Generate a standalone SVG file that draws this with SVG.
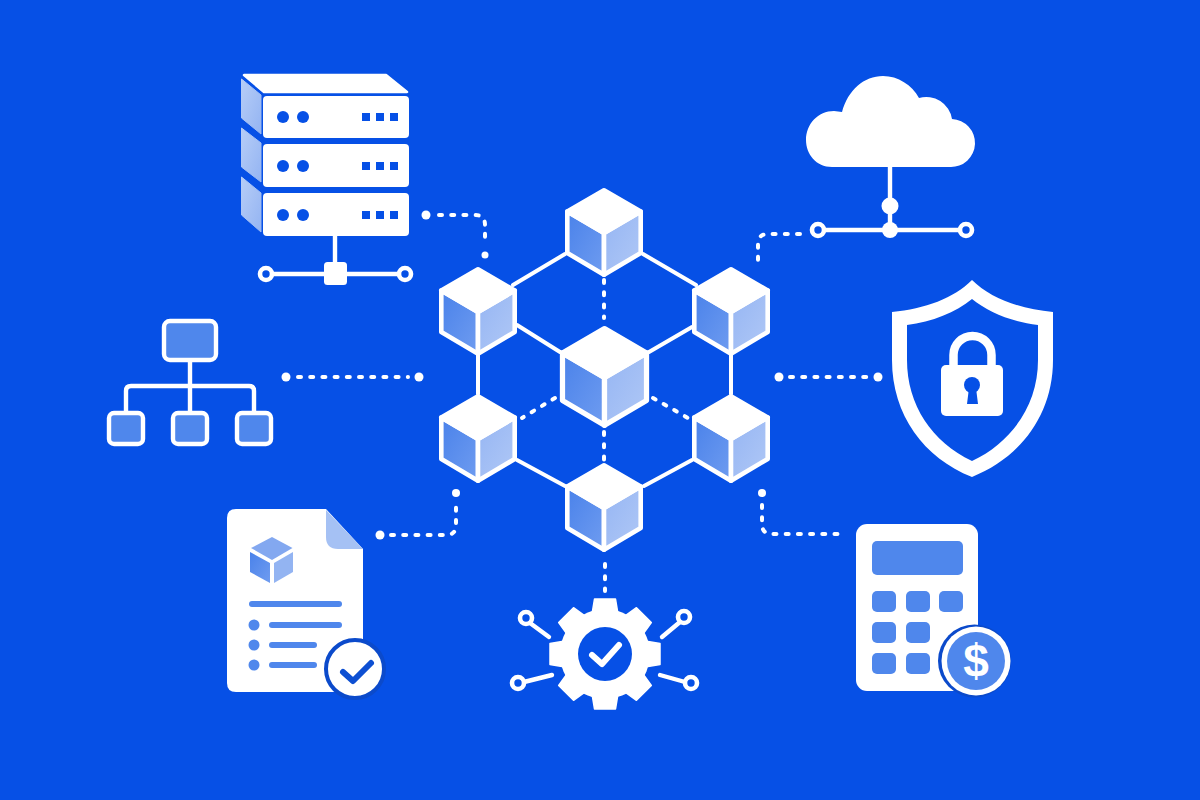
<svg xmlns="http://www.w3.org/2000/svg" width="1200" height="800" viewBox="0 0 1200 800">
  <defs>
    <linearGradient id="faceLeft" x1="0" y1="0" x2="1" y2="1">
      <stop offset="0" stop-color="#4a82ea"/>
      <stop offset="1" stop-color="#6f9cf0"/>
    </linearGradient>
    <linearGradient id="faceRight" x1="0" y1="0" x2="1" y2="1">
      <stop offset="0" stop-color="#95b5f3"/>
      <stop offset="1" stop-color="#b0c8f6"/>
    </linearGradient>
    <linearGradient id="serverSide" x1="0" y1="0" x2="1" y2="1">
      <stop offset="0" stop-color="#b6cdf7"/>
      <stop offset="1" stop-color="#94b4f2"/>
    </linearGradient>
    <g id="cube" stroke="#fff" stroke-width="4.6" stroke-linejoin="round">
      <path d="M-36.7,23.5 L0,45 V86.7 L-36.7,65 Z" fill="url(#faceLeft)"/>
      <path d="M36.7,23.5 L0,45 V86.7 L36.7,65 Z" fill="url(#faceRight)"/>
      <path d="M0,2.3 L36.7,23.5 L0,45 L-36.7,23.5 Z" fill="#fff"/>
    </g>
    <g id="tooth"><path d="M-13,-40 L-10.5,-55 H10.5 L13,-40 Z" fill="#fff" stroke="#fff" stroke-width="1.5" stroke-linejoin="round"/></g>
  </defs>
  <style>
    .link { fill: none; stroke: #fff; stroke-width: 4; stroke-linecap: round; }
    .dash { fill: none; stroke: #fff; stroke-width: 4; stroke-dasharray: 3 9.2; stroke-linecap: round; }
    .dot { fill: #fff; }
    .wire { fill: none; stroke: #fff; stroke-width: 4.4; stroke-linecap: round; stroke-linejoin: round; }
    .ring { fill: #0650e6; stroke: #fff; stroke-width: 4.6; }
    .hole { fill: #0650e6; }
    .tint { fill: #4f87ec; }
    .box { fill: #4f87ec; stroke: #fff; stroke-width: 4.4; }
  </style>

  <rect width="1200" height="800" fill="#0650e6"/>

  <g id="connectors">
    <!-- solid links of the cube cluster -->
    <path class="link" d="M565,254 L513,285 M643,254 L696,285 M517,325 L560,352 M692,327 L649,352 M478,355 V394 M731,355 V394 M517,460 L565,486 M692,460 L644,486"/>
    <!-- dashed links of the cube cluster -->
    <path class="dash" d="M604,280 V318 M604,432 V460 M555,398 L522,418 M653,398 L688,418"/>
    <!-- dotted leaders to the outer icons -->
    <path class="dash" d="M439,215 H475 Q485,215 485,225 V246"/>
    <circle class="dot" cx="426" cy="215" r="4.5"/>
    <circle class="dot" cx="485" cy="255" r="3.5"/>
    <path class="dash" d="M800,234 H768 Q758,234 758,244 V265"/>
    <path class="dash" d="M298,377 H408"/>
    <circle class="dot" cx="286" cy="377" r="4.5"/>
    <circle class="dot" cx="419" cy="377" r="4.5"/>
    <path class="dash" d="M790,377 H868"/>
    <circle class="dot" cx="779" cy="377" r="4.5"/>
    <circle class="dot" cx="878" cy="377" r="4.5"/>
    <path class="dash" d="M391,535 H446 Q456,535 456,525 V504"/>
    <circle class="dot" cx="380" cy="535" r="4.5"/>
    <circle class="dot" cx="456" cy="493" r="4"/>
    <path class="dash" d="M762,505 V524 Q762,534 772,534 H838"/>
    <circle class="dot" cx="762" cy="493" r="4"/>
    <path class="dash" d="M605,564 V591"/>
  </g>

  <g id="cube-top"><use href="#cube" x="604" y="188"/></g>
  <g id="cube-upper-left"><use href="#cube" x="478" y="267"/></g>
  <g id="cube-upper-right"><use href="#cube" x="731" y="267"/></g>
  <g id="cube-lower-left"><use href="#cube" x="478" y="394"/></g>
  <g id="cube-lower-right"><use href="#cube" x="731" y="394"/></g>
  <g id="cube-bottom"><use href="#cube" x="604" y="463"/></g>
  <g id="cube-center"><use href="#cube" transform="translate(604.5 326) scale(1.145)"/></g>

  <g id="server">
    <path d="M244,75 H386 L407,92 H264 Z" fill="#fff" stroke="#fff" stroke-width="2.5" stroke-linejoin="round"/>
    <g fill="url(#serverSide)" stroke="url(#serverSide)" stroke-width="1" stroke-linejoin="round">
      <path d="M241.5,79 L261,95 V134 L241.5,118 Z"/>
      <path d="M241.5,128 L261,143 V182 L241.5,167 Z"/>
      <path d="M241.5,177 L261,193 V232 L241.5,215 Z"/>
    </g>
    <g fill="#fff">
      <rect x="263" y="96" width="146" height="42" rx="4"/>
      <rect x="263" y="144" width="146" height="43" rx="4"/>
      <rect x="263" y="193" width="146" height="43" rx="4"/>
    </g>
    <g class="hole">
      <circle cx="283" cy="117" r="6"/><circle cx="303" cy="117" r="6"/>
      <rect x="362" y="113" width="8" height="8"/><rect x="376" y="113" width="8" height="8"/><rect x="390" y="113" width="8" height="8"/>
      <circle cx="283" cy="166" r="6"/><circle cx="303" cy="166" r="6"/>
      <rect x="362" y="162" width="8" height="8"/><rect x="376" y="162" width="8" height="8"/><rect x="390" y="162" width="8" height="8"/>
      <circle cx="283" cy="215" r="6"/><circle cx="303" cy="215" r="6"/>
      <rect x="362" y="211" width="8" height="8"/><rect x="376" y="211" width="8" height="8"/><rect x="390" y="211" width="8" height="8"/>
    </g>
    <path class="wire" d="M335,236 V264 M272,274 H399"/>
    <rect x="324" y="262" width="23" height="23" rx="3.5" fill="#fff"/>
    <circle class="ring" cx="266" cy="274" r="6"/>
    <circle class="ring" cx="405" cy="274" r="6"/>
  </g>

  <g id="cloud">
    <path d="M832,167 C816,167 806,154 806,140 C806,124 818,111 834,111 L842,112 C848,90 864,76 883,76 C898,76 912,85 919,98 A26,26 0 0 1 952,119 A24,24 0 0 1 950,167 Z" fill="#fff"/>
    <path class="wire" d="M890,167 V230 M824,230 H960"/>
    <circle class="dot" cx="890" cy="206" r="8.5"/>
    <circle class="dot" cx="890" cy="230" r="8"/>
    <circle class="ring" cx="818" cy="230" r="6"/>
    <circle class="ring" cx="966" cy="230" r="6"/>
  </g>

  <g id="hierarchy">
    <path class="wire" d="M190,362 V411 M126,411 V391 Q126,386 131,386 H249 Q254,386 254,391 V411"/>
    <rect class="box" x="164" y="321" width="52" height="39" rx="6"/>
    <rect class="box" x="109" y="413" width="34" height="31" rx="5"/>
    <rect class="box" x="173" y="413" width="34" height="31" rx="5"/>
    <rect class="box" x="237" y="413" width="34" height="31" rx="5"/>
  </g>

  <g id="shield">
    <path d="M972,280 C990,298 1020,309 1053,312 V360 C1053,415 1020,458 972,477 C924,458 892,415 892,360 V312 C925,309 954,298 972,280 Z" fill="#fff"/>
    <path class="hole" d="M972,299 C988,312 1012,322 1038,325 V360 C1038,405 1012,442 972,461 C932,442 907,405 907,360 V325 C932,322 956,312 972,299 Z"/>
    <path d="M953.5,368 V355 a19,19 0 0 1 38,0 V368" fill="none" stroke="#fff" stroke-width="8.5"/>
    <rect x="941" y="365" width="62" height="51" rx="5" fill="#fff"/>
    <circle class="hole" cx="972" cy="385" r="8"/>
    <path class="hole" d="M969,388 H976 L978,404 H967 Z"/>
  </g>

  <g id="document">
    <path d="M236,509 H326 L363,549 V683 Q363,692 354,692 H236 Q227,692 227,683 V518 Q227,509 236,509 Z" fill="#fff"/>
    <path d="M326,510 L363,549 H338 Q326,549 326,537 Z" fill="#a5c1f4"/>
    <path d="M272,537 L292.5,548 L272,560 L251,548 Z" fill="#83a8f0"/>
    <path d="M250,552 L270,563 V583 L250,572 Z" fill="url(#faceLeft)"/>
    <path d="M274,563 L293,552 V572 L274,583 Z" fill="#93b4f2"/>
    <g fill="#4f87ec">
      <rect x="249" y="601" width="93" height="6" rx="3"/>
      <circle cx="254" cy="625" r="5.5"/><rect x="269" y="622" width="73" height="6" rx="3"/>
      <circle cx="254" cy="645" r="5.5"/><rect x="269" y="642" width="48" height="6" rx="3"/>
      <circle cx="254" cy="665" r="5.5"/><rect x="269" y="662" width="48" height="6" rx="3"/>
    </g>
    <circle cx="355" cy="669" r="29" fill="#fff" stroke="#0b4acb" stroke-width="4"/>
    <path d="M343,672 L353,681 L371,663" fill="none" stroke="#0d4fd2" stroke-width="6" stroke-linecap="round" stroke-linejoin="round"/>
  </g>

  <g id="gear">
    <circle cx="605" cy="654" r="45" fill="#fff"/>
    <use href="#tooth" transform="translate(605 654)"/>
    <use href="#tooth" transform="translate(605 654) rotate(45)"/>
    <use href="#tooth" transform="translate(605 654) rotate(90)"/>
    <use href="#tooth" transform="translate(605 654) rotate(135)"/>
    <use href="#tooth" transform="translate(605 654) rotate(180)"/>
    <use href="#tooth" transform="translate(605 654) rotate(225)"/>
    <use href="#tooth" transform="translate(605 654) rotate(270)"/>
    <use href="#tooth" transform="translate(605 654) rotate(315)"/>
    <circle class="hole" cx="605" cy="654" r="27"/>
    <path d="M592,655 L602,664 L619,645" fill="none" stroke="#fff" stroke-width="6" stroke-linecap="round" stroke-linejoin="round"/>
    <path class="wire" d="M530,623 L549,637 M680,622 L662,637 M524,682 L552,675 M685,682 L660,675"/>
    <circle class="ring" cx="526" cy="618" r="6"/>
    <circle class="ring" cx="684" cy="617" r="6"/>
    <circle class="ring" cx="518" cy="683" r="6"/>
    <circle class="ring" cx="691" cy="683" r="6"/>
  </g>

  <g id="calculator">
    <rect x="856" y="524" width="122" height="167" rx="11" fill="#fff"/>
    <rect class="tint" x="872" y="541" width="91" height="34" rx="5"/>
    <g class="tint">
      <rect x="872" y="591" width="24" height="21" rx="5"/><rect x="906" y="591" width="24" height="21" rx="5"/><rect x="939" y="591" width="24" height="21" rx="5"/>
      <rect x="872" y="622" width="24" height="21" rx="5"/><rect x="906" y="622" width="24" height="21" rx="5"/>
      <rect x="872" y="653" width="24" height="21" rx="5"/><rect x="906" y="653" width="24" height="21" rx="5"/>
    </g>
    <circle cx="974.5" cy="661" r="36.5" fill="#0b4acb"/>
    <circle cx="976" cy="661" r="34.5" fill="#fff"/>
    <circle class="tint" cx="976" cy="661" r="29"/>
    <text x="976" y="677" text-anchor="middle" font-family="'Liberation Sans', Arial, sans-serif" font-size="46" font-weight="700" fill="#fff">$</text>
  </g>
</svg>
